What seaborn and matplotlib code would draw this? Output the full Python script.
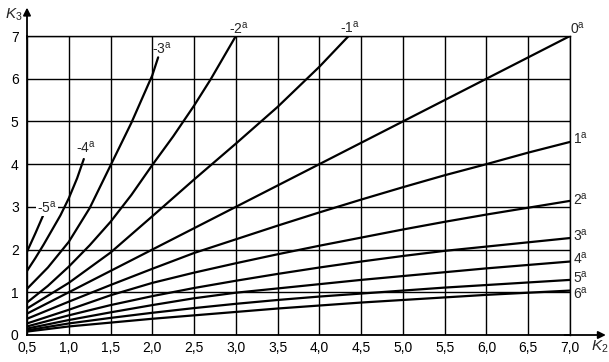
import numpy as np
import pandas as pd
import matplotlib
matplotlib.use("Agg")
import matplotlib.pyplot as plt
import seaborn as sns

# ---- data ----
k2_m5 = [0.5, 0.6, 0.7]
k3_m5 = [1.95, 2.38, 2.83]

k2_m4 = [0.5, 0.6, 0.7, 0.8, 0.9, 1.0, 1.1, 1.18]
k3_m4 = [1.50, 1.80, 2.12, 2.46, 2.80, 3.20, 3.67, 4.12]

k2_m3 = [0.5, 0.75, 1.0, 1.25, 1.5, 1.75, 2.0, 2.07]
k3_m3 = [1.08, 1.58, 2.18, 2.97, 3.97, 4.97, 6.08, 6.50]

k2_m2 = [0.5, 0.75, 1.0, 1.25, 1.5, 1.75, 2.0, 2.25, 2.5, 2.7, 3.0]
k3_m2 = [0.76, 1.15, 1.60, 2.10, 2.65, 3.28, 3.98, 4.65, 5.37, 5.99, 7.00]

k2_m1 = [0.5, 1.0, 1.5, 2.0, 2.5, 3.0, 3.5, 4.0, 4.35]
k3_m1 = [0.62, 1.22, 1.93, 2.78, 3.64, 4.48, 5.34, 6.28, 7.00]

k2_0 = [0.5, 7.0]
k3_0 = [0.5, 7.0]

k2_pos = [0.5, 1.0, 1.5, 2.0, 2.5, 3.0, 3.5, 4.0, 4.5, 5.0, 5.5, 6.0, 6.5, 7.0]
k3_p1 = [0.38, 0.78, 1.17, 1.55, 1.92, 2.24, 2.56, 2.87, 3.17, 3.46, 3.74, 4.00, 4.27, 4.52]
k3_p2 = [0.27, 0.59, 0.93, 1.22, 1.46, 1.68, 1.89, 2.09, 2.28, 2.47, 2.65, 2.82, 2.98, 3.14]
k3_p3 = [0.20, 0.46, 0.70, 0.91, 1.10, 1.27, 1.43, 1.58, 1.72, 1.85, 1.97, 2.07, 2.17, 2.27]
k3_p4 = [0.15, 0.35, 0.53, 0.70, 0.86, 0.99, 1.09, 1.19, 1.29, 1.38, 1.47, 1.56, 1.64, 1.72]
k3_p5 = [0.11, 0.27, 0.40, 0.52, 0.63, 0.73, 0.82, 0.90, 0.97, 1.04, 1.11, 1.17, 1.23, 1.29]
k3_p6 = [0.08, 0.20, 0.29, 0.38, 0.46, 0.54, 0.62, 0.69, 0.76, 0.82, 0.88, 0.94, 0.99, 1.04]

curve_names = ["-5", "-4", "-3", "-2", "-1", "0", "1", "2", "3", "4", "5", "6"]

x_ticks = [0.5, 1.0, 1.5, 2.0, 2.5, 3.0, 3.5, 4.0, 4.5, 5.0, 5.5, 6.0, 6.5, 7.0]
x_tick_labels = ["0,5", "1,0", "1,5", "2,0", "2,5", "3,0", "3,5", "4,0",
                 "4,5", "5,0", "5,5", "6,0", "6,5", "7,0"]
y_ticks = [0, 1, 2, 3, 4, 5, 6, 7]
y_tick_labels = ["0", "1", "2", "3", "4", "5", "6", "7"]

# label anchor positions (data coords) for each curve label
label_pos = {
    "-5": (0.74, 2.98, "center"),
    "-4": (1.21, 4.38, "center"),
    "-3": (2.11, 6.70, "center"),
    "-2": (3.04, 7.17, "center"),
    "-1": (4.37, 7.20, "center"),
    "0": (7.09, 7.17, "center"),
    "1": (7.04, 4.60, "left"),
    "2": (7.04, 3.16, "left"),
    "3": (7.04, 2.32, "left"),
    "4": (7.04, 1.80, "left"),
    "5": (7.04, 1.35, "left"),
    "6": (7.04, 0.98, "left"),
}

# ---- build long-form table ----
series = [
    (k2_m5, k3_m5), (k2_m4, k3_m4), (k2_m3, k3_m3), (k2_m2, k3_m2),
    (k2_m1, k3_m1), (k2_0, k3_0),
    (k2_pos, k3_p1), (k2_pos, k3_p2), (k2_pos, k3_p3),
    (k2_pos, k3_p4), (k2_pos, k3_p5), (k2_pos, k3_p6),
]
frames = []
for name, (xs, ys) in zip(curve_names, series):
    frames.append(pd.DataFrame({"K2": xs, "K3": ys, "curve": name}))
df = pd.concat(frames, ignore_index=True)

# ---- style ----
sns.set_theme(style="white")
plt.rcParams["font.family"] = ["Liberation Sans", "DejaVu Sans"]
plt.rcParams["mathtext.fontset"] = "custom"
plt.rcParams["mathtext.rm"] = "Liberation Sans"
plt.rcParams["mathtext.it"] = "Liberation Sans:italic"
plt.rcParams["mathtext.bf"] = "Liberation Sans:bold"

fig = plt.figure(figsize=(6.09, 3.62), dpi=100)
ax = fig.add_axes([27 / 609, 1 - 335 / 362, 543 / 609, 299 / 362])

sns.lineplot(data=df, x="K2", y="K3", units="curve", estimator=None,
             color="black", lw=1.6, ax=ax, legend=False, sort=True)

ax.set_xlim(0.5, 7.0)
ax.set_ylim(0, 7)
ax.set_xticks(x_ticks)
ax.set_xticklabels(x_tick_labels)
ax.set_yticks(y_ticks)
ax.set_yticklabels(y_tick_labels)
ax.set_xlabel("")
ax.set_ylabel("")
ax.grid(True, color="black", lw=1.0)
ax.set_axisbelow(True)
ax.tick_params(axis="both", length=0, labelsize=10, colors="black")
ax.tick_params(axis="x", pad=4)
ax.tick_params(axis="y", pad=6)
for s in ax.spines.values():
    s.set_color("black")
    s.set_linewidth(1.0)
ax.spines["left"].set_linewidth(1.3)
ax.spines["bottom"].set_linewidth(1.3)

# axis arrows
ax.annotate("", xy=(0, 1.095), xytext=(0, 0.99), xycoords="axes fraction",
            arrowprops=dict(arrowstyle="-|>", color="black", lw=1.3,
                            mutation_scale=11, shrinkA=0, shrinkB=0),
            annotation_clip=False)
ax.annotate("", xy=(1.066, 0), xytext=(0.99, 0), xycoords="axes fraction",
            arrowprops=dict(arrowstyle="-|>", color="black", lw=1.3,
                            mutation_scale=11, shrinkA=0, shrinkB=0),
            annotation_clip=False)

ax.text(-0.024, 1.07, r"$K_3$", transform=ax.transAxes, ha="center",
        va="center", fontsize=11)
ax.text(1.055, -0.04, r"$K_2$", transform=ax.transAxes, ha="center",
        va="center", fontsize=11)

for name in curve_names:
    x, y, ha = label_pos[name]
    kw = {}
    if name == "-5":
        kw["bbox"] = dict(facecolor="white", edgecolor="none", pad=0.5)
    ax.text(x, y, name + r"$^{\mathrm{a}}$", ha=ha, va="center",
            fontsize=10, clip_on=False, **kw)

fig.savefig("out.png", dpi=100)
